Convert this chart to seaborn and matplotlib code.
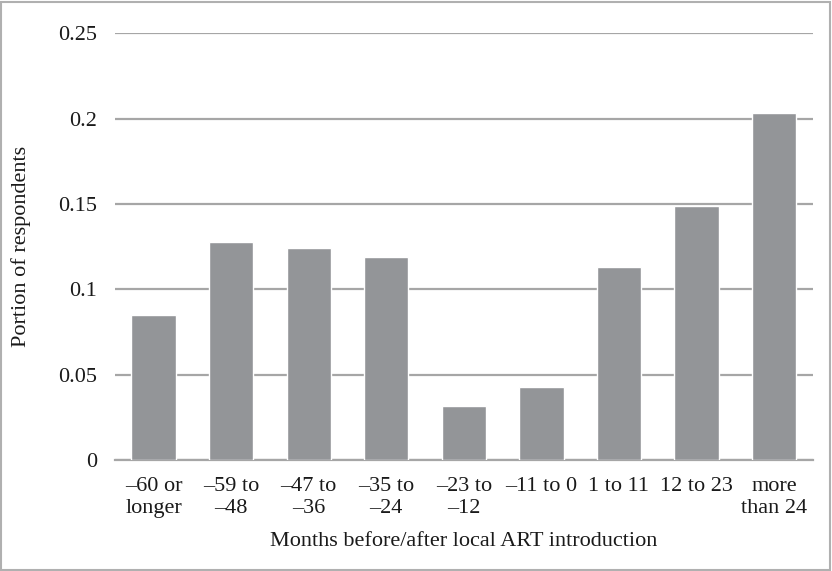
import matplotlib
matplotlib.use("Agg")
import matplotlib.pyplot as plt
import seaborn as sns
import pandas as pd
from matplotlib.patches import Rectangle

categories = ["\u201360 or\nlonger", "\u201359 to\n\u201348", "\u201347 to\n\u201336",
              "\u201335 to\n\u201324", "\u201323 to\n\u201312", "\u201311 to 0",
              "1 to 11", "12 to 23", "more\nthan 24"]
values = [0.085, 0.128, 0.124, 0.119, 0.032, 0.043, 0.113, 0.149, 0.203]
yticks = [0, 0.05, 0.1, 0.15, 0.2, 0.25]
ytick_labels = ["0", "0.05", "0.1", "0.15", "0.2", "0.25"]

sns.set_theme(style="white")
plt.rcParams['font.family'] = ['Liberation Serif', 'DejaVu Serif']

df = pd.DataFrame({"cat": categories, "val": values})

fig = plt.figure(figsize=(8.32, 5.71), dpi=100)
ax = fig.add_axes([0.138, 0.194, 0.839, 0.748])

sns.barplot(data=df, x="cat", y="val", color="#939598", saturation=1,
            width=0.57, ax=ax, zorder=3)

ax.set_ylim(0, 0.25)
ax.set_yticks(yticks)
ax.set_yticklabels(ytick_labels)
ax.yaxis.grid(True, color="#a6a6a6", linewidth=1.6, zorder=0)
ax.set_axisbelow(True)
for s in ["top", "right", "left"]:
    ax.spines[s].set_visible(False)
ax.spines["bottom"].set_color("#a6a6a6")
ax.spines["bottom"].set_linewidth(1.6)
ax.tick_params(axis="both", length=0, labelsize=16, colors="#1a1a1a")
ax.tick_params(axis="x", pad=12)
ax.tick_params(axis="y", pad=13)
for lbl in ax.get_xticklabels():
    lbl.set_linespacing(1.2)
ax.set_xlabel("Months before/after local ART introduction", fontsize=16, color="#1a1a1a", labelpad=10)
ax.set_ylabel("Portion of respondents", fontsize=16, color="#1a1a1a", labelpad=19)

fig.patches.append(Rectangle((0.001, 0.002), 0.996, 0.995, transform=fig.transFigure,
                             fill=False, edgecolor="#b0b0b0", linewidth=1.5))

fig.savefig("out.png", dpi=100)
